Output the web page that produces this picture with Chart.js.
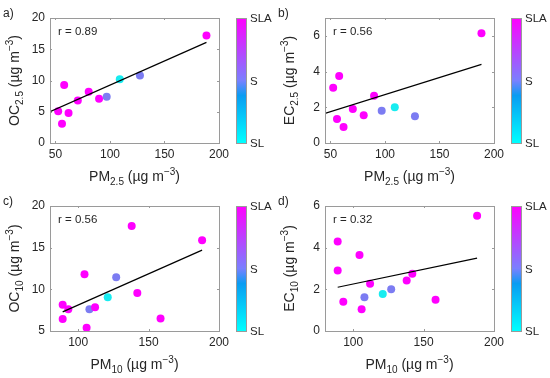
<!DOCTYPE html>
<html>
<head>
<meta charset="utf-8">
<script src="https://cdn.jsdelivr.net/npm/chart.js@4.4.1/dist/chart.umd.min.js"></script>
<style>
  body { margin: 0; background: #fff; width: 550px; height: 378px; position: relative; overflow: hidden; }
  canvas { position: absolute; }
</style>
</head>
<body>
<canvas id="pa" width="275" height="189" style="left:0;top:0"></canvas>
<canvas id="pb" width="275" height="189" style="left:275px;top:0"></canvas>
<canvas id="pc" width="275" height="190" style="left:0;top:188px"></canvas>
<canvas id="pd" width="275" height="190" style="left:275px;top:188px"></canvas>
<script>
// PM2.5 samples (panels a, b)
var pm25 = [52.5, 56, 58, 62, 70.5, 80.5, 90, 97, 109, 127.5, 188.5];
var oc25 = [5.1, 3.1, 9.3, 4.8, 6.8, 8.2, 7.1, 7.4, 10.2, 10.8, 17.2];
var ec25 = [3.1, 1.35, 3.75, 0.9, 1.9, 1.55, 2.65, 1.8, 2.0, 1.5, 6.15];
var site25 = ['SLA', 'SLA', 'SLA', 'SLA', 'SLA', 'SLA', 'SLA', 'S', 'SL', 'S', 'SLA'];

// PM10 samples (panels c, d)
var pm10 = [89, 89, 93, 104.5, 106, 108, 112, 121, 127, 138, 142, 158.5, 188];
var oc10 = [6.45, 8.15, 7.6, 11.8, 5.4, 7.6, 7.85, 9.05, 11.45, 17.6, 9.55, 6.5, 15.9];
var ec10 = [4.3, 2.9, 1.4, 3.65, 1.05, 1.62, 2.27, 1.78, 2.0, 2.43, 2.75, 1.5, 5.53];
var site10 = ['SLA', 'SLA', 'SLA', 'SLA', 'SLA', 'S', 'SLA', 'SL', 'S', 'SLA', 'SLA', 'SLA', 'SLA'];

// regression lines (ends)
var fitAx = [45, 188.5], fitAy = [5.0, 16.1];
var fitBx = [45, 188.5], fitBy = [1.66, 4.4];
var fitCx = [89, 188], fitCy = [7.3, 14.7];
var fitDx = [89, 188], fitDy = [2.1, 3.5];

var rText = ['r = 0.89', 'r = 0.56', 'r = 0.56', 'r = 0.32'];

var xTicks25 = [50, 100, 150, 200];
var xTicks10 = [100, 150, 200];
var yTicksOC25 = [0, 5, 10, 15, 20];
var yTicksEC = [0, 2, 4, 6];
var yTicksOC10 = [5, 10, 15, 20];

var siteNames = ['SL', 'S', 'SLA'];
var siteColors = { SLA: '#ff00ff', S: '#7c7cf2', SL: '#18ecf0' };

var FONT = "'Liberation Sans', Arial, Helvetica, sans-serif";
var TXT = '#262626';

function drawRich(ctx, parts, cx, y) {
  var w = 0;
  parts.forEach(function (p) {
    ctx.font = (p.s ? 10 : 14) + 'px ' + FONT;
    w += ctx.measureText(p.t).width;
  });
  var x = cx - w / 2;
  parts.forEach(function (p) {
    ctx.font = (p.s ? 10 : 14) + 'px ' + FONT;
    var dy = p.s === 1 ? 4 : (p.s === -1 ? -6 : 0);
    ctx.fillText(p.t, x, y + dy);
    x += ctx.measureText(p.t).width;
  });
}

function pts(xs, ys) {
  return xs.map(function (x, i) { return { x: x, y: ys[i] }; });
}

function makePanel(id, p) {
  var canvas = document.getElementById(id);
  var H = canvas.height;
  var area = { left: 50, right: 219, top: 18, bottom: 143 };

  var deco = {
    id: 'deco',
    afterDraw: function (chart) {
      var c = chart.ctx, a = chart.chartArea;
      var sx = chart.scales.x, sy = chart.scales.y;
      c.save();
      // box
      c.strokeStyle = '#9a9a9a';
      c.lineWidth = 1;
      c.strokeRect(Math.round(a.left) + 0.5, Math.round(a.top) + 0.5,
        Math.round(a.right - a.left), Math.round(a.bottom - a.top));
      // small inner ticks
      c.beginPath();
      p.xTicks.forEach(function (v) {
        var px = Math.round(sx.getPixelForValue(v)) + 0.5;
        c.moveTo(px, a.bottom); c.lineTo(px, a.bottom - 2);
        c.moveTo(px, a.top); c.lineTo(px, a.top + 2);
      });
      p.yTicks.forEach(function (v) {
        var py = Math.round(sy.getPixelForValue(v)) + 0.5;
        c.moveTo(a.left, py); c.lineTo(a.left + 2, py);
        c.moveTo(a.right, py); c.lineTo(a.right - 2, py);
      });
      c.stroke();

      c.fillStyle = TXT;
      c.textBaseline = 'alphabetic';
      c.textAlign = 'left';
      // panel letter
      c.font = '12px ' + FONT;
      c.fillText(p.letter, 3, 17);
      // r value
      c.font = '11.5px ' + FONT;
      c.fillText(p.r, a.left + 8, a.top + 17);
      // axis titles
      drawRich(c, p.xTitle, (a.left + a.right) / 2, 181);
      c.save();
      c.translate(19, (a.top + a.bottom) / 2);
      c.rotate(-Math.PI / 2);
      drawRich(c, p.yTitle, 0, 0);
      c.restore();

      // colour bar
      var bx = 236, bw = 10;
      var g = c.createLinearGradient(0, a.bottom, 0, a.top);
      g.addColorStop(0, '#00ffff');
      g.addColorStop(0.38, '#0a9cf2');
      g.addColorStop(0.5, '#7a80ff');
      g.addColorStop(1, '#ff00ff');
      c.fillStyle = g;
      c.fillRect(bx, a.top, bw, a.bottom - a.top);
      c.strokeStyle = '#9a9a9a';
      c.strokeRect(bx + 0.5, Math.round(a.top) + 0.5, bw, Math.round(a.bottom - a.top));
      c.fillStyle = TXT;
      c.font = '11.5px ' + FONT;
      c.textBaseline = 'middle';
      var n = siteNames.length;
      siteNames.forEach(function (s, i) {
        var y = a.bottom - (a.bottom - a.top) * i / (n - 1);
        c.fillText(s, 250, y + 1);
      });
      c.restore();
    }
  };

  return new Chart(canvas, {
    type: 'scatter',
    data: {
      datasets: [
        {
          type: 'line',
          data: pts(p.fitX, p.fitY),
          borderColor: '#000',
          borderWidth: 1.2,
          pointRadius: 0,
          fill: false
        },
        {
          data: pts(p.x, p.y),
          pointRadius: 4,
          pointBorderWidth: 0,
          pointBackgroundColor: p.site.map(function (s) { return siteColors[s]; })
        }
      ]
    },
    options: {
      responsive: false,
      animation: false,
      devicePixelRatio: 1,
      layout: { padding: { top: area.top, right: canvas.width - area.right, bottom: 0, left: 0 } },
      plugins: { legend: { display: false }, tooltip: { enabled: false } },
      scales: {
        x: {
          type: 'linear', min: p.xMin, max: p.xMax,
          grid: { display: false, drawTicks: false }, border: { display: false },
          afterBuildTicks: function (s) { s.ticks = p.xTicks.map(function (v) { return { value: v }; }); },
          afterFit: function (s) { s.height = H - area.bottom; },
          ticks: { color: TXT, font: { size: 12, family: FONT }, padding: 4, maxRotation: 0, autoSkip: false }
        },
        y: {
          type: 'linear', min: p.yMin, max: p.yMax,
          grid: { display: false, drawTicks: false }, border: { display: false },
          afterBuildTicks: function (s) { s.ticks = p.yTicks.map(function (v) { return { value: v }; }); },
          afterFit: function (s) { s.width = area.left; },
          ticks: { color: TXT, font: { size: 12, family: FONT }, padding: 5, autoSkip: false }
        }
      }
    },
    plugins: [deco]
  });
}

var pm25Title = [{ t: 'PM' }, { t: '2.5', s: 1 }, { t: ' (\u00b5g m' }, { t: '\u22123', s: -1 }, { t: ')' }];
var pm10Title = [{ t: 'PM' }, { t: '10', s: 1 }, { t: ' (\u00b5g m' }, { t: '\u22123', s: -1 }, { t: ')' }];

makePanel('pa', {
  letter: 'a)', r: rText[0], x: pm25, y: oc25, site: site25, fitX: fitAx, fitY: fitAy,
  xMin: 45, xMax: 200, yMin: 0, yMax: 20, xTicks: xTicks25, yTicks: yTicksOC25,
  xTitle: pm25Title,
  yTitle: [{ t: 'OC' }, { t: '2.5', s: 1 }, { t: ' (\u00b5g m' }, { t: '\u22123', s: -1 }, { t: ')' }]
});
makePanel('pb', {
  letter: 'b)', r: rText[1], x: pm25, y: ec25, site: site25, fitX: fitBx, fitY: fitBy,
  xMin: 45, xMax: 200, yMin: 0, yMax: 7, xTicks: xTicks25, yTicks: yTicksEC,
  xTitle: pm25Title,
  yTitle: [{ t: 'EC' }, { t: '2.5', s: 1 }, { t: ' (\u00b5g m' }, { t: '\u22123', s: -1 }, { t: ')' }]
});
makePanel('pc', {
  letter: 'c)', r: rText[2], x: pm10, y: oc10, site: site10, fitX: fitCx, fitY: fitCy,
  xMin: 80, xMax: 200, yMin: 5, yMax: 20, xTicks: xTicks10, yTicks: yTicksOC10,
  xTitle: pm10Title,
  yTitle: [{ t: 'OC' }, { t: '10', s: 1 }, { t: ' (\u00b5g m' }, { t: '\u22123', s: -1 }, { t: ')' }]
});
makePanel('pd', {
  letter: 'd)', r: rText[3], x: pm10, y: ec10, site: site10, fitX: fitDx, fitY: fitDy,
  xMin: 80, xMax: 200, yMin: 0, yMax: 6, xTicks: xTicks10, yTicks: yTicksEC,
  xTitle: pm10Title,
  yTitle: [{ t: 'EC' }, { t: '10', s: 1 }, { t: ' (\u00b5g m' }, { t: '\u22123', s: -1 }, { t: ')' }]
});
</script>
</body>
</html>
